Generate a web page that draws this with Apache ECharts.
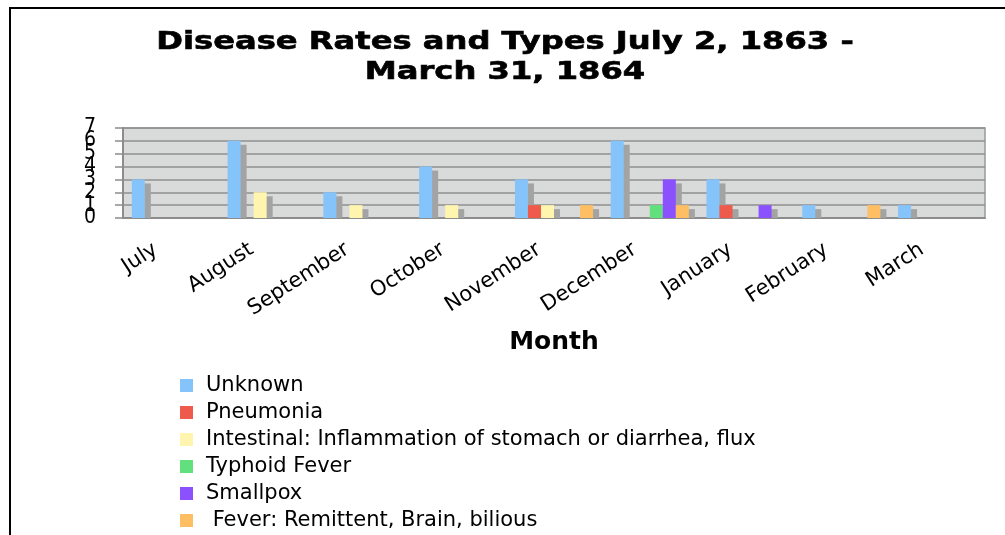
<!DOCTYPE html>
<html>
<head>
<meta charset="utf-8">
<script src="https://cdn.jsdelivr.net/npm/echarts@6/dist/echarts.min.js"></script>
<style>
  html, body { margin: 0; padding: 0; background: #fff; }
  #chart { width: 1005px; height: 535px; }
</style>
</head>
<body>
<div id="chart"></div>
<script>
// months on the x axis
const months = ['July', 'August', 'September', 'October', 'November', 'December', 'January', 'February', 'March'];

// cases per disease type, one value per month
const unknown = [3, 6, 2, 4, 3, 6, 3, 1, 1];
const pneumonia = [0, 0, 0, 0, 1, 0, 1, 0, 0];
const intestinal = [0, 2, 1, 1, 1, 0, 0, 0, 0];
const typhoid = [0, 0, 0, 0, 0, 1, 0, 0, 0];
const smallpox = [0, 0, 0, 0, 0, 3, 1, 0, 0];
const fever = [0, 0, 0, 0, 1, 1, 0, 1, 0];

const diseaseNames = [
  'Unknown',
  'Pneumonia',
  'Intestinal: Inflammation of stomach or diarrhea, flux',
  'Typhoid Fever',
  'Smallpox',
  ' Fever: Remittent, Brain, bilious'
];
const diseaseValues = [unknown, pneumonia, intestinal, typhoid, smallpox, fever];
const colors = ['#85c4fa', '#ee5a4b', '#fff5ae', '#62e07d', '#8b51fe', '#fdbe64'];

const FONT = '"DejaVu Sans", Verdana, sans-serif';
const DIGIT_FONT = '"DejaVu Sans Condensed", "DejaVu Sans", sans-serif';

// bars with a grey offset "depth" block, laid out by slot inside each month
function makeRender(slot) {
  return function (params, api) {
    const i = api.value(0);
    const v = api.value(1);
    if (!v) return null;
    const band = api.size([1, 0])[0];
    const w = band * 0.136;
    const base = api.coord([i, 0]);
    const top = api.coord([i, v]);
    const x = base[0] - 3 * w + slot * w;
    const h = base[1] - top[1];
    return {
      type: 'group',
      children: [
        {
          type: 'rect',
          shape: { x: x + 6, y: top[1] + 4, width: w, height: h - 4 },
          style: { fill: '#a3a3a3' }
        },
        {
          type: 'rect',
          shape: { x: x, y: top[1], width: w, height: h },
          style: { fill: colors[slot] }
        }
      ]
    };
  };
}

// the original's tall digits overlap each other; split them over two
// identical axes (even / odd) so ECharts does not drop any of them
function yLabelAxis(keepOdd, visibleLines) {
  return {
    type: 'value',
    position: 'left',
    min: 0,
    max: 7,
    interval: 1,
    axisLine: { show: visibleLines, lineStyle: { color: '#8c8c8c', width: 2 } },
    axisTick: { show: visibleLines, length: 8, lineStyle: { color: '#8c8c8c', width: 1.5 } },
    splitLine: { show: visibleLines, lineStyle: { color: '#8f8f8f', width: 1.5 } },
    axisLabel: {
      showMinLabel: true,
      showMaxLabel: true,
      margin: 27,
      fontFamily: DIGIT_FONT,
      fontSize: 21,
      color: '#000',
      formatter: function (v) { return (v % 2 === 1) === keepOdd ? String(v) : ''; }
    }
  };
}

const chart = echarts.init(document.getElementById('chart'));

chart.setOption({
  animation: false,
  backgroundColor: '#fff',
  graphic: [
    {
      type: 'rect',
      shape: { x: 10, y: 8, width: 1010, height: 540 },
      style: { fill: null, stroke: '#000', lineWidth: 2 },
      silent: true
    },
    {
      // title, widened like the original
      type: 'text',
      x: 505,
      y: 28,
      scaleX: 1.34,
      style: {
        text: 'Disease Rates and Types July 2, 1863 -\nMarch 31, 1864',
        font: 'bold 24px ' + FONT,
        lineHeight: 30,
        align: 'center',
        fill: '#000',
        stroke: '#000',
        lineWidth: 0.6
      },
      silent: true
    }
  ],
  legend: {
    orient: 'vertical',
    left: 180,
    top: 375,
    padding: 0,
    itemWidth: 13,
    itemHeight: 13,
    itemGap: 6,
    icon: 'rect',
    data: diseaseNames,
    textStyle: { fontFamily: FONT, fontSize: 21, color: '#000', padding: [0, 0, 0, 8] }
  },
  grid: {
    left: 123,
    right: 20,
    top: 128,
    height: 90,
    show: true,
    backgroundColor: '#d9dada',
    borderColor: '#999',
    borderWidth: 1.5
  },
  xAxis: {
    type: 'category',
    data: months,
    boundaryGap: true,
    axisLine: { lineStyle: { color: '#8c8c8c', width: 2 } },
    axisTick: { length: 6, lineStyle: { color: '#8c8c8c', width: 1.5 } },
    axisLabel: {
      rotate: 33,
      margin: 20,
      interval: 0,
      padding: [0, 18, 0, 0],
      fontFamily: FONT,
      fontSize: 21,
      color: '#000'
    },
    name: 'Month',
    nameLocation: 'middle',
    nameGap: 112,
    nameTextStyle: { fontFamily: FONT, fontWeight: 'bold', fontSize: 25, color: '#000' }
  },
  yAxis: [yLabelAxis(false, true), yLabelAxis(true, false)],
  series: diseaseNames.map(function (name, k) {
    return {
      name: name,
      type: 'custom',
      coordinateSystem: 'cartesian2d',
      itemStyle: { color: colors[k] },
      encode: { x: 0, y: 1 },
      data: diseaseValues[k].map(function (v, i) { return [i, v]; }),
      renderItem: makeRender(k)
    };
  })
});
</script>
</body>
</html>
